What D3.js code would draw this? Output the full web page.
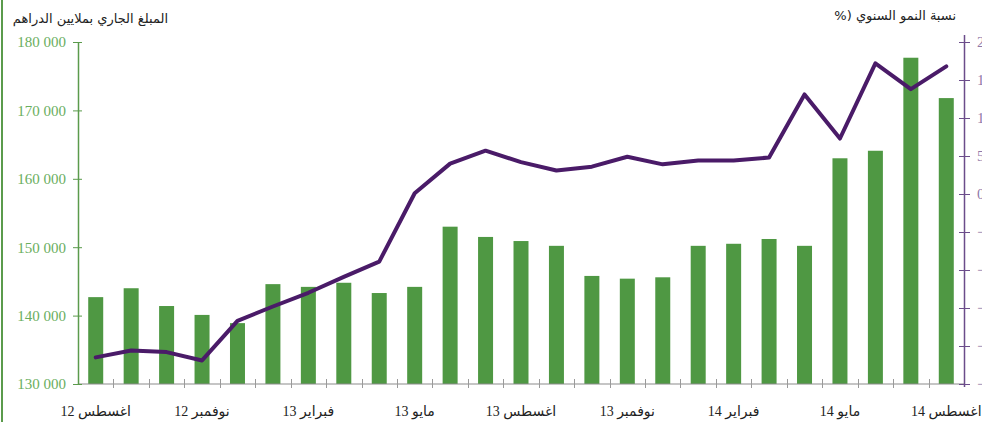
<!DOCTYPE html>
<html lang="ar">
<head>
<meta charset="UTF-8">
<title>Amount and annual growth</title>
<style>
    body { margin: 0; background: #fff; }
    svg { display: block; }
    .num { font-family: "Liberation Serif", "DejaVu Serif", serif; }
    .ar { font-family: "Liberation Serif", "DejaVu Sans", sans-serif; }
</style>
</head>
<body>
<svg width="982" height="422"></svg>
<script src="https://cdn.jsdelivr.net/npm/d3@7"></script>
<script>
// months, Aug 2012 -> Aug 2014
var months = ["اغسطس 12","سبتمبر 12","اكتوبر 12","نوفمبر 12","ديسمبر 12","يناير 13","فبراير 13","مارس 13","ابريل 13",
              "مايو 13","يونيو 13","يوليو 13","اغسطس 13","سبتمبر 13","اكتوبر 13","نوفمبر 13","ديسمبر 13","يناير 14",
              "فبراير 14","مارس 14","ابريل 14","مايو 14","يونيو 14","يوليو 14","اغسطس 14"];
// amount, millions of dirhams (bars, left axis)
var amounts = [142700,144000,141400,140100,138900,144600,144200,144800,143300,144200,153000,151500,150900,
               150200,145800,145400,145600,150200,150500,151200,150200,163000,164100,177700,171800];
// annual growth in % (line, right axis)
var growth = [-21.5,-20.6,-20.8,-21.9,-16.7,-14.8,-13.0,-10.9,-8.9,0.1,4.0,5.7,4.2,3.1,3.6,4.9,3.9,4.4,4.4,4.8,
              13.1,7.3,17.2,13.8,16.8];
var xLabels = ["اغسطس 12","نوفمبر 12","فبراير 13","مايو 13","اغسطس 13","نوفمبر 13","فبراير 14","مايو 14","اغسطس 14"];
var leftTicks = [130000,140000,150000,160000,170000,180000];
var rightTicks = [-25,-20,-15,-10,-5,0,5,10,15,20];

var svg = d3.select("svg"),
    m = {left: 78, right: 964, top: 42, bottom: 384};

var x = d3.scaleBand().domain(months).range([m.left, m.right]).padding(0);
var xb = d3.scaleBand().domain(months).range([m.left, m.right]).paddingInner(0.577).paddingOuter(0.2885);
var y = d3.scaleLinear().domain([130000, 180000]).range([m.bottom, m.top]);
var y2 = d3.scaleLinear().domain([-25, 20]).range([m.bottom, m.top]);

// green frame line on the far left
svg.append("rect").attr("x", 1).attr("y", 0).attr("width", 2).attr("height", 422).attr("fill", "#5b9b4c");

// bars
svg.append("g").selectAll("rect")
    .data(amounts)
    .enter().append("rect")
    .attr("x", function(d, i) { return xb(months[i]); })
    .attr("y", function(d) { return y(d); })
    .attr("width", xb.bandwidth())
    .attr("height", function(d) { return m.bottom - y(d); })
    .attr("fill", "#4f9843");

// x axis (ticks at month boundaries)
var gx = svg.append("g").attr("transform", "translate(0," + m.bottom + ")");
gx.append("line").attr("x1", m.left).attr("x2", m.right).attr("stroke", "#8c8c8c").attr("stroke-width", 1.2);
gx.selectAll(".tk")
    .data(months.slice(1))
    .enter().append("line")
    .attr("x1", function(d) { return Math.round(x(d)) + 0.5; })
    .attr("x2", function(d) { return Math.round(x(d)) + 0.5; })
    .attr("y1", -5).attr("y2", 4)
    .attr("stroke", "#9a9a9a");
gx.selectAll("text")
    .data(xLabels)
    .enter().append("text")
    .attr("class", "ar")
    .attr("direction", "rtl")
    .attr("text-anchor", "middle")
    .attr("x", function(d) { return x(d) + x.bandwidth() / 2; })
    .attr("y", 32)
    .attr("font-size", 14)
    .attr("fill", "#222")
    .text(function(d) { return d; });

// left axis
var gl = svg.append("g").attr("transform", "translate(" + m.left + ",0)")
    .call(d3.axisLeft(y).tickValues(leftTicks).tickSizeInner(5).tickSizeOuter(0)
        .tickFormat(function(d) { return d3.format(",")(d).replace(",", " "); }));
gl.select(".domain").attr("stroke", "#5b9b4c").attr("stroke-width", 1.5);
gl.selectAll(".tick line").attr("stroke", "#5b9b4c").attr("x2", 4).attr("x1", -5);
gl.selectAll(".tick text").attr("class", "num").attr("x", -12).attr("font-size", 15).attr("fill", "#6aae5e");

// right axis
var gr = svg.append("g").attr("transform", "translate(" + m.right + ",0)")
    .call(d3.axisRight(y2).tickValues(rightTicks).tickSizeInner(5).tickSizeOuter(0));
gr.select(".domain").attr("stroke", "#6b4c8a").attr("stroke-width", 1.5).attr("d", "M0.5,35V387");
gr.selectAll(".tick line").attr("stroke", "#6b4c8a").attr("x1", -5).attr("x2", 6);
gr.selectAll(".tick text").attr("class", "num").attr("x", 13).attr("font-size", 15).attr("fill", "#8f78a8");

// growth line
var line = d3.line()
    .x(function(d, i) { return x(months[i]) + x.bandwidth() / 2; })
    .y(function(d) { return y2(d); });
svg.append("path")
    .datum(growth)
    .attr("d", line)
    .attr("fill", "none")
    .attr("stroke", "#4a1b68")
    .attr("stroke-width", 4)
    .attr("stroke-linejoin", "round")
    .attr("stroke-linecap", "round");

// axis titles
svg.append("text")
    .attr("direction", "rtl")
    .attr("x", 168).attr("y", 23)
    .attr("font-family", "'DejaVu Sans', sans-serif")
    .attr("font-size", 13)
    .attr("fill", "#222")
    .text("المبلغ الجاري بملايين الدراهم");
svg.append("text")
    .attr("direction", "rtl")
    .attr("x", 956).attr("y", 20)
    .attr("font-family", "'DejaVu Sans', sans-serif")
    .attr("font-size", 13)
    .attr("fill", "#222")
    .text("نسبة النمو السنوي (%");
</script>
</body>
</html>
